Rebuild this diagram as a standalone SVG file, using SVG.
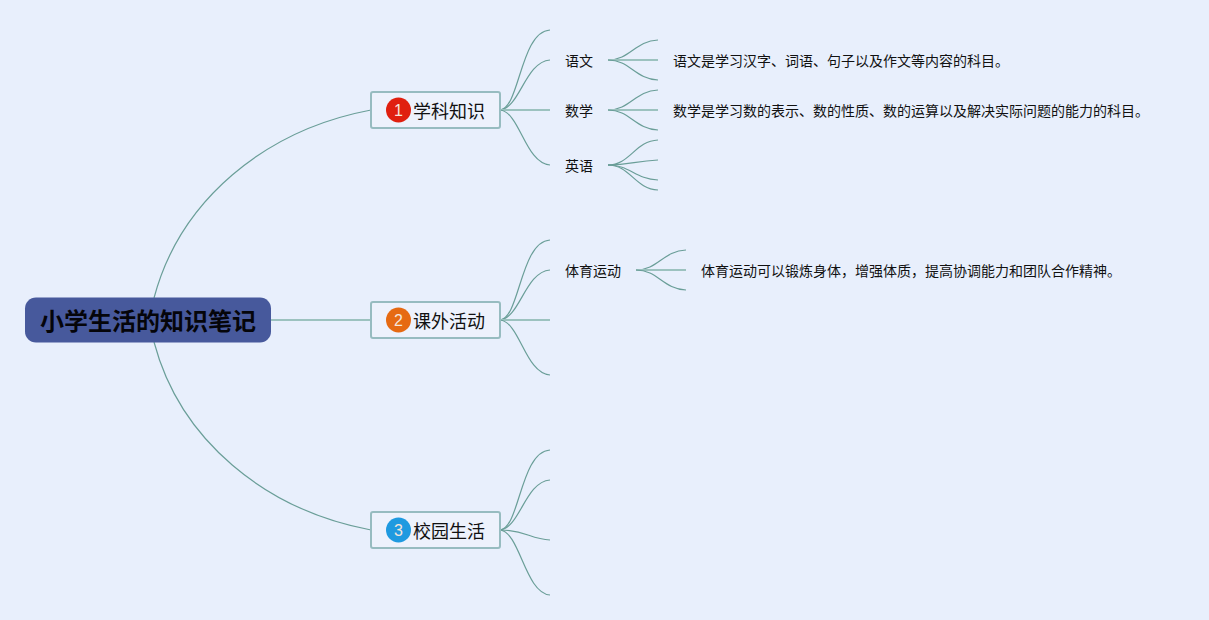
<svg xmlns="http://www.w3.org/2000/svg" width="1209" height="620" viewBox="0 0 1209 620">
<style>
text{font-family:"Noto Sans CJK SC","Liberation Sans",sans-serif;fill:#111}
.c{fill:none;stroke:#6a9e98;stroke-width:1.200}
.s{stroke:#9cc2bf;stroke-width:2}
.t{font-size:18px}
.l{font-size:14px}
.d{font-size:14px}
.b{fill:#edf2fc;stroke:#97bcc0;stroke-width:2}
.n{font-size:16px;fill:#f5e6dc;font-family:"Liberation Sans",sans-serif;text-anchor:middle}
</style>
<rect width="1209" height="620" fill="#e8effc"/>
<g id="connectors">
<path class="c" d="M154 298C180 200 265 130 371 110"/>
<path class="c" d="M154 342C180 440 265 510 371 530"/>
<path class="c s" d="M271 320H371"/>
<path class="c" d="M500 110C520 108 520 32 550 30"/>
<path class="c" d="M500 110C520 108 525 62 550 60"/>
<path class="c s" d="M500 110H550"/>
<path class="c" d="M500 110C520 112 525 163 550 165"/>
<path class="c" d="M608 60C630 60 635 41 658 40"/><path class="c s" d="M608 60H658"/><path class="c" d="M608 60C630 60 635 79 658 80"/>
<path class="c" d="M608 110C630 110 635 91 658 90"/><path class="c s" d="M608 110H658"/><path class="c" d="M608 110C630 110 635 129 658 130"/>
<path class="c" d="M608 165C630 165 635 141 658 140"/><path class="c" d="M608 165C630 165 635 161 658 160"/><path class="c" d="M608 165C630 165 635 179 658 180"/><path class="c" d="M608 165C630 165 635 189 658 190"/>
<path class="c" d="M500 320C520 318 520 242 550 240"/>
<path class="c" d="M500 320C520 318 525 272 550 270"/>
<path class="c s" d="M500 320H550"/>
<path class="c" d="M500 320C520 322 525 373 550 375"/>
<path class="c" d="M636 270C658 270 663 251 686 250"/><path class="c s" d="M636 270H686"/><path class="c" d="M636 270C658 270 663 289 686 290"/>
<path class="c" d="M500 530C520 528 520 452 550 450"/>
<path class="c" d="M500 530C520 528 525 482 550 480"/>
<path class="c" d="M500 530C525 530 530 539 550 540"/>
<path class="c" d="M500 530C520 532 525 593 550 595"/>
</g>
<g id="root"><rect x="25" y="297.500" width="246" height="45" rx="11" fill="#47599c"/><text x="148" y="330" text-anchor="middle" font-size="24" font-weight="700" style="fill:#05050a">小学生活的知识笔记</text></g>
<g id="n1"><rect class="b" x="371" y="92" width="129" height="36" rx="2"/><circle cx="398.500" cy="110" r="12.500" fill="#e0200f"/><text class="n" x="398.500" y="115.500">1</text><text class="t" x="413" y="118">学科知识</text></g>
<g id="n2"><rect class="b" x="371" y="302" width="129" height="36" rx="2"/><circle cx="398.500" cy="320" r="12.500" fill="#e66a12"/><text class="n" x="398.500" y="325.500">2</text><text class="t" x="413" y="328">课外活动</text></g>
<g id="n3"><rect class="b" x="371" y="512" width="129" height="36" rx="2"/><circle cx="398.500" cy="530" r="12.500" fill="#1f9ae0"/><text class="n" x="398.500" y="535.500">3</text><text class="t" x="413" y="538">校园生活</text></g>
<g id="a1"><text class="l" x="565" y="66">语文</text></g>
<g id="a2"><text class="l" x="565" y="116">数学</text></g>
<g id="a3"><text class="l" x="565" y="171">英语</text></g>
<g id="a4"><text class="l" x="565" y="276">体育运动</text></g>
<g id="d1"><text class="d" x="673" y="66">语文是学习汉字、词语、句子以及作文等内容的科目。</text></g>
<g id="d2"><text class="d" x="673" y="116">数学是学习数的表示、数的性质、数的运算以及解决实际问题的能力的科目。</text></g>
<g id="d3"><text class="d" x="701" y="276">体育运动可以锻炼身体，增强体质，提高协调能力和团队合作精神。</text></g>
</svg>
